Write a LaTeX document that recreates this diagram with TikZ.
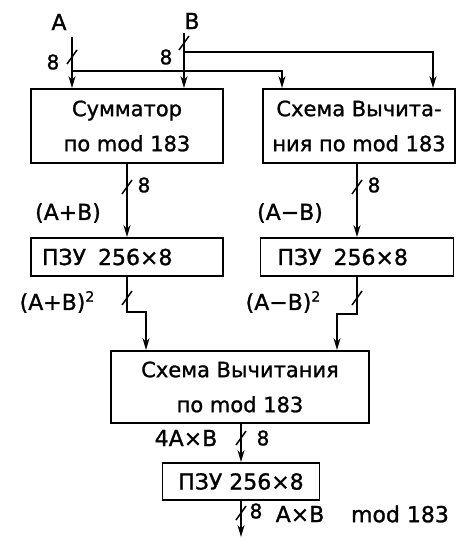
\documentclass[tikz,border=0pt]{standalone}
\usepackage{fontspec}
\setmainfont{DejaVu Sans}[FakeBold=1.2]
\usetikzlibrary{arrows.meta}
\begin{document}
\begin{tikzpicture}[x=1pt,y=-1pt,line width=1.8pt,
  blk/.style={draw,line width=1.9pt,inner sep=0pt,align=center,
    font=\fontsize{21}{35}\selectfont},
  lbl/.style={inner sep=0pt,font=\fontsize{22}{24}\selectfont},
  num/.style={inner sep=0pt,font=\fontsize{20}{22}\selectfont},
  arr/.style={-{Stealth[length=12pt,width=7pt]}},
  bus/.pic={\draw[line width=1.5pt] (-5,7) -- (5,-7);}]
\useasboundingbox (0,0) rectangle (465,538);
% blocks
\node[blk,minimum width=192pt,minimum height=74pt] (box1) at (127,126) {Сумматор\\по mod 183};
\node[blk,minimum width=192pt,minimum height=74pt] (box2) at (359,126) {Схема Вычита-\\ния по mod 183};
\node[blk,minimum width=192pt,minimum height=38pt,text width=180pt,align=left,inner xsep=6pt,font=\fontsize{22}{24}\selectfont] (rom1) at (127,257) {\hspace*{5pt}ПЗУ\hspace{12pt}256×8};
\node[blk,minimum width=193pt,minimum height=38pt,text width=181pt,align=left,inner xsep=6pt,font=\fontsize{22}{24}\selectfont] (rom2) at (357,257) {\hspace*{11pt}ПЗУ\hspace{12pt}256×8};
\node[blk,minimum width=258pt,minimum height=72pt] (box3) at (240,387) {Схема Вычитания\\по mod 183};
\node[blk,minimum width=157pt,minimum height=37pt,font=\fontsize{22}{24}\selectfont] (rom4) at (241,481.5) {ПЗУ 256×8};
% inputs
\coordinate (Ain) at (72,37);
\coordinate (Bin) at (184,33);
\coordinate (Aj) at (72,71);
\coordinate (Bj) at (184,52);
\node[lbl] (A) at (59,22) {A};
\node[lbl] (B) at (192,21) {B};
\draw[arr] (Ain) -- (Ain |- box1.north);
\draw[arr] (Bin) -- (Bin |- box1.north);
\draw[arr] (Aj) -| ([xshift=-77pt]box2.north);
\draw[arr] (Bj) -| ([xshift=74pt]box2.north);
\pic at (72,57) {bus};
\pic at (184,43) {bus};
\node[num] (n1) at (53,62) {8};
\node[num] (n2) at (166,57) {8};
% first stage outputs
\draw[arr] (box1.south) -- (rom1.north);
\draw[arr] (rom2.north |- box2.south) -- (rom2.north);
\pic at (127,187) {bus};
\pic at (357,187) {bus};
\node[num] (n3) at (144,185) {8};
\node[num] (n4) at (374,185) {8};
\node[lbl] (s1) at (68,213) {(A+B)};
\node[lbl] (d1) at (290,213) {(A−B)};
% second stage outputs
\coordinate (j1) at (146,312);
\coordinate (j2) at (337,314);
\draw[arr] (rom1.south) |- (j1) -- (j1 |- box3.north);
\draw[arr] (rom2.south) |- (j2) -- (j2 |- box3.north);
\pic at (127,298) {bus};
\pic at (357,298) {bus};
\node[lbl] (s2) at (57,302) {(A+B)\raisebox{0.7ex}{\fontsize{14}{14}\selectfont 2}};
\node[lbl] (d2) at (283,302) {(A−B)\raisebox{0.7ex}{\fontsize{14}{14}\selectfont 2}};
% third stage
\draw[arr] (rom4.north |- box3.south) -- (rom4.north);
\pic at (241,438) {bus};
\node[lbl] (p4) at (186,438) {4A×B};
\node[num] (n5) at (263,438) {8};
% output
\coordinate (out) at (241,537);
\draw[arr] (rom4.south) -- (out);
\pic at (241,513) {bus};
\node[num] (n6) at (256,511) {8};
\node[lbl] (ab) at (300,514) {A×B};
\node[lbl] (md) at (400,514) {mod 183};
\end{tikzpicture}
\end{document}
